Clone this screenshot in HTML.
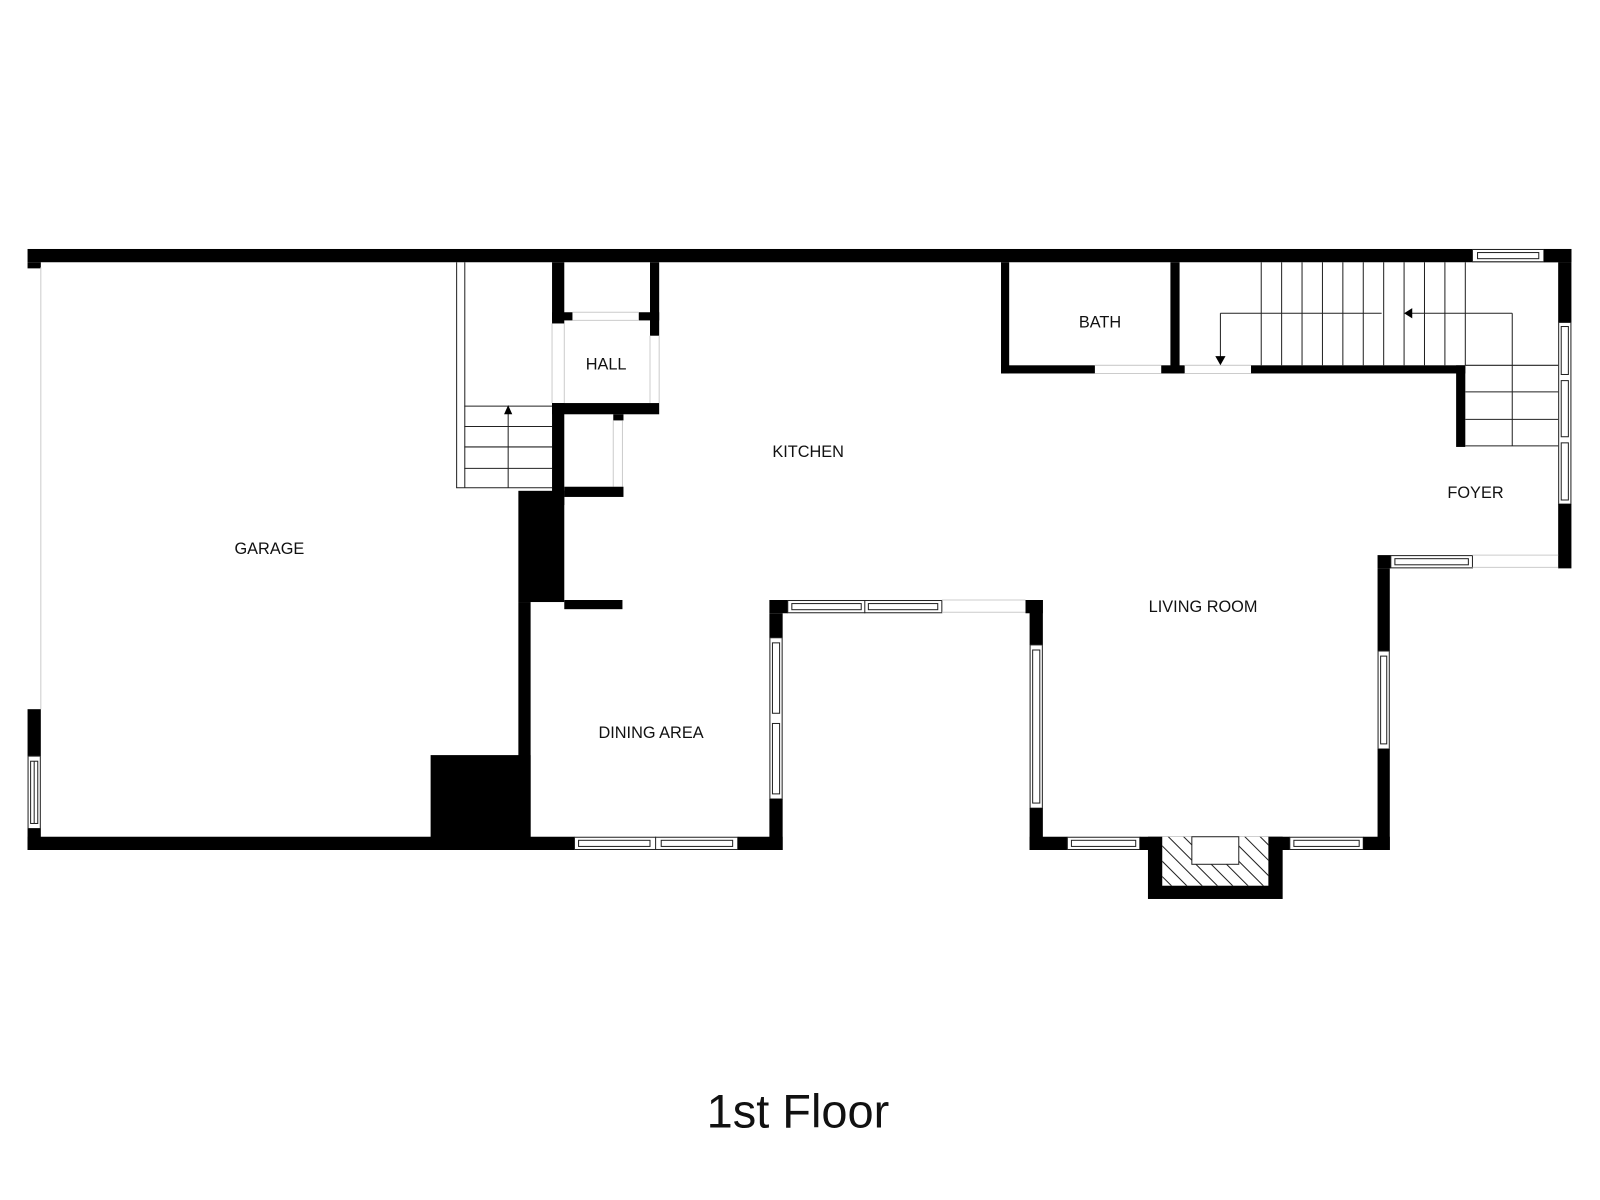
<!DOCTYPE html>
<html><head><meta charset="utf-8"><style>html,body{margin:0;padding:0;background:#fff}svg{display:block}</style></head>
<body>
<svg width="1600" height="1200" viewBox="0 0 1568 1176" xmlns="http://www.w3.org/2000/svg">
<defs>
<style>
.w{fill:#000}
.win{fill:#fff;stroke:#222;stroke-width:1}
.ln{stroke:#222;stroke-width:1;fill:none}
.dr{stroke:#ccc;stroke-width:1;fill:none}
.t{font-family:"Liberation Sans",sans-serif;font-size:16px;fill:#111;text-anchor:middle}
</style>
</defs>
<rect width="1568" height="1176" fill="#fff"/>
<!-- top wall -->
<rect class="w" x="27" y="244" width="1513" height="13"/>
<rect class="w" x="27" y="257" width="13" height="6"/>
<line class="dr" x1="40" y1="262" x2="40" y2="695"/>
<!-- left garage lower -->
<rect class="w" x="27" y="695" width="13" height="46"/>
<rect class="win" x="27.5" y="741" width="12" height="71"/>
<rect class="win" x="30" y="746" width="7" height="61"/>
<line class="ln" x1="33.5" y1="746" x2="33.5" y2="807"/>
<rect class="w" x="27" y="812" width="13" height="21"/>
<!-- garage bottom -->
<rect class="w" x="27" y="820" width="536" height="13"/>
<rect class="w" x="422" y="740" width="98" height="93"/>
<!-- garage/dining wall -->
<rect class="w" x="508" y="481" width="45" height="109"/>
<rect class="w" x="508" y="590" width="12" height="243"/>
<rect class="w" x="541" y="257" width="12" height="60"/>
<rect class="w" x="541" y="395" width="12" height="100"/>
<line class="dr" x1="541" y1="317" x2="541" y2="395"/>
<line class="dr" x1="553" y1="317" x2="553" y2="395"/>
<!-- hall -->
<rect class="w" x="637" y="257" width="9" height="72"/>
<rect class="w" x="541" y="306" width="20" height="8"/>
<rect class="w" x="626" y="306" width="20" height="8"/>
<line class="dr" x1="561" y1="306" x2="626" y2="306"/>
<line class="dr" x1="561" y1="314" x2="626" y2="314"/>
<line class="dr" x1="637" y1="329" x2="637" y2="395"/>
<line class="dr" x1="646" y1="329" x2="646" y2="395"/>
<rect class="w" x="541" y="395" width="105" height="11"/>
<!-- closet -->
<rect class="w" x="601" y="406" width="10" height="6"/>
<line class="dr" x1="601" y1="412" x2="601" y2="477"/>
<line class="dr" x1="610" y1="412" x2="610" y2="477"/>
<rect class="w" x="553" y="477" width="58" height="10"/>
<rect class="w" x="553" y="588" width="57" height="9"/>
<!-- garage stairs -->
<line class="ln" x1="447.5" y1="257" x2="447.5" y2="478"/>
<line class="ln" x1="455.5" y1="257" x2="455.5" y2="478"/>
<line class="ln" x1="447" y1="478" x2="541" y2="478"/>
<line class="ln" x1="455" y1="398" x2="541" y2="398"/>
<line class="ln" x1="455" y1="418" x2="541" y2="418"/>
<line class="ln" x1="455" y1="438" x2="541" y2="438"/>
<line class="ln" x1="455" y1="459" x2="541" y2="459"/>
<line class="ln" x1="498" y1="478" x2="498" y2="404"/>
<polygon points="494,406 502,406 498,397" fill="#000"/>
<!-- bath -->
<rect class="w" x="981" y="257" width="8" height="109"/>
<rect class="w" x="981" y="358" width="92" height="8"/>
<line class="dr" x1="1073" y1="358" x2="1138" y2="358"/>
<line class="dr" x1="1073" y1="366" x2="1138" y2="366"/>
<rect class="w" x="1147" y="257" width="9" height="109"/>
<rect class="w" x="1138" y="358" width="23" height="8"/>
<line class="dr" x1="1161" y1="358" x2="1226" y2="358"/>
<line class="dr" x1="1161" y1="366" x2="1226" y2="366"/>
<rect class="w" x="1226" y="358" width="210" height="8"/>
<rect class="w" x="1427" y="358" width="9" height="80"/>
<!-- main stair -->
<g class="ln">
<line x1="1236" y1="257" x2="1236" y2="358"/><line x1="1256" y1="257" x2="1256" y2="358"/>
<line x1="1276" y1="257" x2="1276" y2="358"/><line x1="1296" y1="257" x2="1296" y2="358"/>
<line x1="1316" y1="257" x2="1316" y2="358"/><line x1="1336" y1="257" x2="1336" y2="358"/>
<line x1="1356" y1="257" x2="1356" y2="358"/><line x1="1376" y1="257" x2="1376" y2="358"/>
<line x1="1396" y1="257" x2="1396" y2="358"/><line x1="1416" y1="257" x2="1416" y2="358"/>
<line x1="1436" y1="257" x2="1436" y2="358"/>
<line x1="1436" y1="358" x2="1527" y2="358"/>
<line x1="1436" y1="384" x2="1527" y2="384"/>
<line x1="1436" y1="411" x2="1527" y2="411"/>
<line x1="1436" y1="437" x2="1527" y2="437"/>
<line x1="1482" y1="307" x2="1482" y2="437"/>
<line x1="1383" y1="307" x2="1482" y2="307"/>
<line x1="1196" y1="307" x2="1354" y2="307"/>
<line x1="1196" y1="307" x2="1196" y2="350"/>
</g>
<polygon points="1376,307 1384,302 1384,312" fill="#000"/>
<polygon points="1191,349 1201,349 1196,358" fill="#000"/>
<!-- right wall -->
<rect class="win" x="1443" y="244.5" width="70" height="12"/>
<rect class="win" x="1448" y="247.5" width="60" height="6"/>
<rect class="w" x="1513" y="244" width="27" height="13"/>
<rect class="w" x="1527" y="257" width="13" height="59"/>
<rect class="win" x="1527.5" y="316" width="12" height="178"/>
<rect class="win" x="1530" y="320" width="7" height="47"/>
<rect class="win" x="1530" y="373" width="7" height="55"/>
<rect class="win" x="1530" y="434" width="7" height="56"/>
<rect class="w" x="1527" y="494" width="13" height="63"/>
<!-- foyer bottom -->
<rect class="w" x="1350" y="544" width="13" height="13"/>
<rect class="win" x="1363" y="544.5" width="80" height="12"/>
<rect class="win" x="1367" y="547.5" width="72" height="6"/>
<line class="dr" x1="1443" y1="544" x2="1527" y2="544"/>
<line class="dr" x1="1443" y1="556" x2="1527" y2="556"/>
<!-- living right -->
<rect class="w" x="1350" y="557" width="12" height="81"/>
<rect class="win" x="1350.5" y="638" width="11" height="96"/>
<rect class="win" x="1353" y="643" width="6" height="86"/>
<rect class="w" x="1350" y="734" width="12" height="99"/>
<!-- living bottom -->
<rect class="w" x="1009" y="820" width="37" height="13"/>
<rect class="win" x="1046" y="820.5" width="71" height="12"/>
<rect class="win" x="1050" y="823.5" width="63" height="6"/>
<rect class="w" x="1117" y="820" width="147" height="13"/>
<rect class="win" x="1264" y="820.5" width="72" height="12"/>
<rect class="win" x="1268" y="823.5" width="64" height="6"/>
<rect class="w" x="1336" y="820" width="26" height="13"/>
<!-- fireplace -->
<rect class="w" x="1125" y="820" width="132" height="61"/>
<clipPath id="fp"><rect x="1139" y="820" width="104" height="48"/></clipPath>
<rect x="1139" y="820" width="104" height="48" fill="#fff"/>
<g clip-path="url(#fp)" class="ln">
<line x1="1110" y1="800" x2="1190" y2="880"/><line x1="1125" y1="800" x2="1205" y2="880"/>
<line x1="1140" y1="800" x2="1220" y2="880"/><line x1="1155" y1="800" x2="1235" y2="880"/>
<line x1="1170" y1="800" x2="1250" y2="880"/><line x1="1185" y1="800" x2="1265" y2="880"/>
<line x1="1200" y1="800" x2="1280" y2="880"/><line x1="1215" y1="800" x2="1295" y2="880"/>
<line x1="1095" y1="800" x2="1175" y2="880"/><line x1="1080" y1="800" x2="1160" y2="880"/>
</g>
<rect x="1168" y="820" width="46" height="27" fill="#fff" stroke="#222" stroke-width="1"/>
<!-- living left -->
<rect class="w" x="1009" y="588" width="13" height="44"/>
<rect class="win" x="1009.5" y="632" width="12" height="160"/>
<rect class="win" x="1012" y="637" width="7" height="150"/>
<rect class="w" x="1009" y="792" width="13" height="41"/>
<!-- top connecting wall -->
<rect class="w" x="754" y="588" width="18" height="13"/>
<rect class="win" x="772" y="588.5" width="151" height="12"/>
<rect class="win" x="776" y="591.5" width="68" height="6"/>
<rect class="win" x="851" y="591.5" width="68" height="6"/>
<line class="ln" x1="847.5" y1="588" x2="847.5" y2="601"/>
<line class="dr" x1="923" y1="588" x2="1005" y2="588"/>
<line class="dr" x1="923" y1="600" x2="1005" y2="600"/>
<rect class="w" x="1005" y="588" width="17" height="13"/>
<!-- dining right -->
<rect class="w" x="754" y="601" width="13" height="24"/>
<rect class="win" x="754.5" y="625" width="12" height="158"/>
<rect class="win" x="757" y="630" width="7" height="69"/>
<rect class="win" x="757" y="709" width="7" height="69"/>
<rect class="w" x="754" y="783" width="13" height="50"/>
<!-- dining bottom -->
<rect class="win" x="563" y="820.5" width="160" height="12"/>
<rect class="win" x="567" y="823.5" width="70" height="6"/>
<rect class="win" x="648" y="823.5" width="70" height="6"/>
<line class="ln" x1="642.5" y1="820" x2="642.5" y2="833"/>
<rect class="w" x="723" y="820" width="44" height="13"/>
<!-- labels -->
<text class="t" x="264" y="543">GARAGE</text>
<text class="t" x="594" y="362">HALL</text>
<text class="t" x="792" y="448">KITCHEN</text>
<text class="t" x="1078" y="321">BATH</text>
<text class="t" x="1446" y="488">FOYER</text>
<text class="t" x="1179" y="600">LIVING ROOM</text>
<text class="t" x="638" y="723">DINING AREA</text>
<text x="782" y="1105" font-family="Liberation Sans, sans-serif" font-size="46" fill="#111" text-anchor="middle">1st Floor</text>
</svg>
</body></html>
